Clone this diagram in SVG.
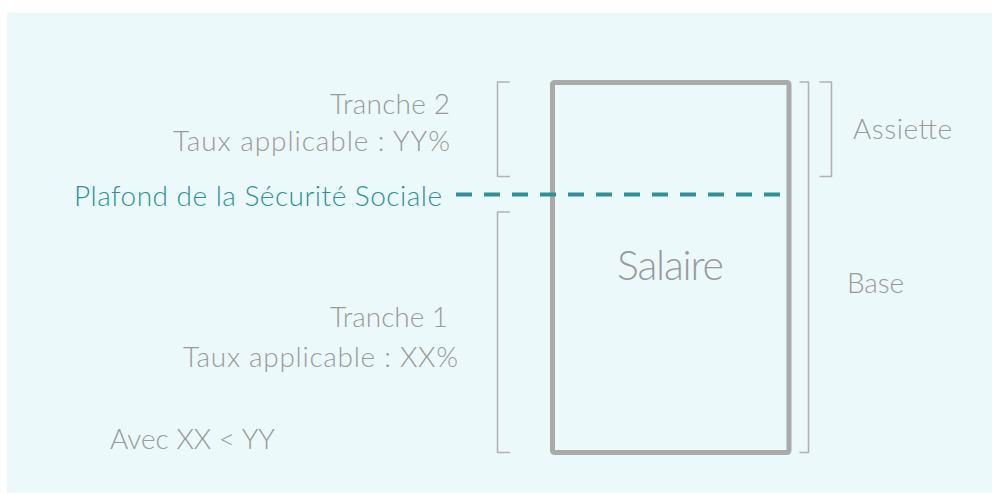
<svg xmlns="http://www.w3.org/2000/svg" width="992" height="494" viewBox="0 0 992 494">
<style>
.t{font-family:Lato,"Noto Sans",sans-serif;font-weight:300;fill:#9a9a9a;font-size:28px}
.teal{fill:#2e9198}
.br{fill:none;stroke:#b2b2b2;stroke-width:1.6;stroke-linejoin:round}
</style>
<rect x="7" y="13" width="985" height="480" fill="#ebf9fa"/>
<g id="salaire">
<rect x="552.5" y="82.5" width="236.5" height="370" rx="2" fill="none" stroke="#aaaaaa" stroke-width="5"/>
<text class="t" x="617" y="280" textLength="107" lengthAdjust="spacing" style="font-size:41px">Salaire</text>
</g>
<g id="tranche2">
<path class="br" d="M510 82 H497.5 V176.5 H510"/>
<text class="t" x="330" y="114" textLength="120" lengthAdjust="spacing">Tranche 2</text>
<text class="t" x="173" y="151" textLength="277" lengthAdjust="spacing">Taux applicable : YY%</text>
</g>
<g id="tranche1">
<path class="br" d="M510 212 H497.5 V452.5 H510"/>
<text class="t" x="330" y="327" textLength="118" lengthAdjust="spacing">Tranche 1</text>
<text class="t" x="183" y="367" textLength="275" lengthAdjust="spacing">Taux applicable : XX%</text>
</g>
<g id="plafond">
<text class="t teal" x="74" y="206" textLength="368" lengthAdjust="spacing">Plafond de la Sécurité Sociale</text>
</g>
<g id="assiette">
<path class="br" d="M819.5 82 H831.5 V176.5 H819.5"/>
<text class="t" x="853" y="139" textLength="99" lengthAdjust="spacing">Assiette</text>
</g>
<g id="base">
<path class="br" d="M799.5 82 H808.5 V452.5 H799.5"/>
<text class="t" x="847" y="293" textLength="57" lengthAdjust="spacing">Base</text>
</g>
<g id="note">
<text class="t" x="110" y="449" textLength="165" lengthAdjust="spacing">Avec XX &lt; YY</text>
</g>
<g id="connectors">
<line x1="484" y1="194.5" x2="780" y2="194.5" stroke="#2e9198" stroke-width="4" stroke-dasharray="16 12"/>
<line x1="456" y1="194.5" x2="472" y2="194.5" stroke="#2e9198" stroke-width="4"/>
</g>
</svg>
